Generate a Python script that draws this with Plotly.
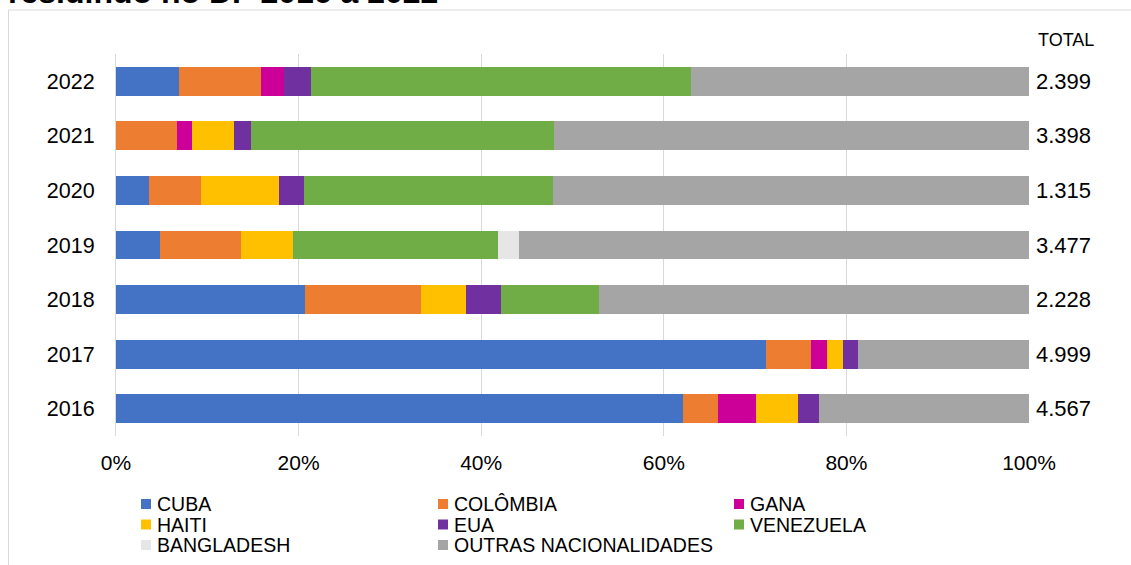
import plotly.graph_objects as go

years = ['2016', '2017', '2018', '2019', '2020', '2021', '2022']
totals = ['4.567', '4.999', '2.228', '3.477', '1.315', '3.398', '2.399']

series_names = ['CUBA', 'COLÔMBIA', 'GANA', 'HAITI', 'EUA', 'VENEZUELA',
                'BANGLADESH', 'OUTRAS NACIONALIDADES']
cuba = [62.15, 71.18, 20.74, 4.85, 3.65, 0.0, 6.94]
colombia = [3.74, 4.98, 12.67, 8.88, 5.70, 6.64, 8.94]
gana = [4.23, 1.76, 0.0, 0.0, 0.0, 1.68, 2.48]
haiti = [4.54, 1.72, 4.96, 5.66, 8.54, 4.64, 0.0]
eua = [2.33, 1.63, 3.76, 0.0, 2.70, 1.86, 3.00]
venezuela = [0.0, 0.0, 10.77, 22.41, 27.24, 33.18, 41.67]
bangladesh = [0.0, 0.0, 0.0, 2.37, 0.0, 0.0, 0.0]
outras = [23.01, 18.73, 47.10, 55.83, 52.17, 52.00, 36.97]

x_ticks = [0, 20, 40, 60, 80, 100]
x_tick_labels = ['0%', '20%', '40%', '60%', '80%', '100%']

series_values = [cuba, colombia, gana, haiti, eua, venezuela, bangladesh, outras]
colors = ['#4472C4', '#ED7D31', '#CC0099', '#FFC000', '#7030A0', '#70AD47',
          '#E7E6E6', '#A5A5A5']

W, H = 1131, 565
ML, MR, MT, MB = 116, 102, 54, 129
PW, PH = W - ML - MR, H - MT - MB


def px_x(p):
    return (p - ML) / PW


def px_y(p):
    return (H - MB - p) / PH


FONT = 'Liberation Sans, Arial, sans-serif'

fig = go.Figure()
for name, vals, col in zip(series_names, series_values, colors):
    fig.add_trace(go.Bar(
        y=years, x=vals, name=name, orientation='h',
        marker=dict(color=col, line=dict(width=0)),
        hoverinfo='skip', showlegend=False,
    ))

annotations = []
# totals column
annotations.append(dict(xref='paper', yref='paper', x=px_x(1036), y=px_y(40),
                        text='TOTAL', showarrow=False, xanchor='left', yanchor='middle',
                        font=dict(family=FONT, size=18, color='#000000')))
for i, tot in enumerate(totals):
    annotations.append(dict(xref='paper', yref='y', x=1, y=i, xshift=5,
                            text=tot, showarrow=False, xanchor='left', yanchor='middle',
                            font=dict(family=FONT, size=22, color='#000000')))

# title (partially cut at the top of the image, as in the source)
annotations.append(dict(xref='paper', yref='paper', x=px_x(6), y=px_y(12),
                        text='<b>residindo no DF 2016 a 2022</b>', showarrow=False,
                        xanchor='left', yanchor='bottom',
                        font=dict(family=FONT, size=32, color='#000000')))

shapes = []
# outer frame
shapes.append(dict(type='rect', xref='paper', yref='paper',
                   x0=px_x(8.5), x1=px_x(W + 5), y0=px_y(H + 5), y1=px_y(10),
                   line=dict(color='#D9D9D9', width=1), fillcolor='rgba(0,0,0,0)',
                   layer='below'))

# custom legend
col_x = [141, 438, 734]
row_y = [504, 524.5, 545]
for i, (name, col) in enumerate(zip(series_names, colors)):
    r, c = divmod(i, 3)
    x0 = col_x[c]
    yc = row_y[r]
    shapes.append(dict(type='rect', xref='paper', yref='paper',
                       x0=px_x(x0), x1=px_x(x0 + 10), y0=px_y(yc + 5), y1=px_y(yc - 5),
                       line=dict(width=0), fillcolor=col))
    annotations.append(dict(xref='paper', yref='paper', x=px_x(x0 + 14), y=px_y(yc),
                            text=name, showarrow=False, xanchor='left', yanchor='middle',
                            font=dict(family=FONT, size=19.5, color='#000000')))

fig.update_layout(
    width=W, height=H,
    margin=dict(l=ML, r=MR, t=MT, b=MB),
    barmode='stack',
    bargap=0.47,
    plot_bgcolor='white', paper_bgcolor='white',
    font=dict(family=FONT, size=21, color='#000000'),
    showlegend=False,
    annotations=annotations,
    shapes=shapes,
    xaxis=dict(range=[0, 100], tickmode='array', tickvals=x_ticks, ticktext=x_tick_labels,
               showgrid=True, gridcolor='#D9D9D9', gridwidth=1,
               zeroline=False, showline=False, ticks='outside', ticklen=8,
               tickcolor='rgba(0,0,0,0)', tickfont=dict(size=21)),
    yaxis=dict(type='category', categoryorder='array', categoryarray=years,
               range=[-0.5, 6.5],
               showline=True, linecolor='#D9D9D9', linewidth=1,
               showgrid=False, zeroline=False, ticks='outside', ticklen=16,
               tickcolor='rgba(0,0,0,0)', tickfont=dict(size=21.5)),
)

fig.write_html('out.html')
